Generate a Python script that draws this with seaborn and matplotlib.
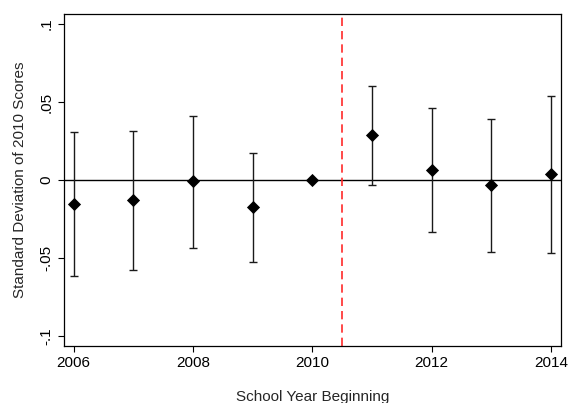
import numpy as np
import pandas as pd
import matplotlib
matplotlib.use("Agg")
import matplotlib.pyplot as plt
import seaborn as sns

# Event-study estimates
years = [2006, 2007, 2008, 2009, 2010, 2011, 2012, 2013, 2014]
coef = [-0.0154, -0.0128, -0.0008, -0.0175, 0.0, 0.0286, 0.0062, -0.0034, 0.0040]
ci_hi = [0.0310, 0.0316, 0.0410, 0.0171, np.nan, 0.0605, 0.0460, 0.0390, 0.0540]
ci_lo = [-0.0613, -0.0579, -0.0434, -0.0524, np.nan, -0.0032, -0.0333, -0.0464, -0.0468]
y_ticks = [-0.1, -0.05, 0, 0.05, 0.1]
y_tick_labels = ["-.1", "-.05", "0", ".05", ".1"]
x_ticks = [2006, 2008, 2010, 2012, 2014]
cutoff = 2010.5

sns.set_theme(style="white")
plt.rcParams['font.family'] = ['Liberation Sans', 'DejaVu Sans']

df = pd.DataFrame({"year": years, "coef": coef, "hi": ci_hi, "lo": ci_lo})

fig = plt.figure(figsize=(5.69, 4.03), dpi=100)
ax = fig.add_axes([0.1125, 0.1414, 0.8735, 0.8239])

# confidence intervals
bars = df.dropna()
ax.errorbar(bars["year"], bars["coef"],
            yerr=[bars["coef"] - bars["lo"], bars["hi"] - bars["coef"]],
            fmt='none', ecolor='#1a1a1a', elinewidth=1.0, capsize=2.8, capthick=1.0, zorder=2)

ax.axhline(0, color='black', linewidth=1.0, zorder=1)
ax.axvline(cutoff, color='#ff2a2a', linewidth=1.2, linestyle=(0, (5, 3)), zorder=1)

sns.scatterplot(data=df, x="year", y="coef", marker='D', s=45, color='black',
                edgecolor='black', linewidth=0, zorder=3, ax=ax)

ax.set_xlim(2005.84, 2014.17)
ax.set_ylim(-0.1064, 0.1064)
ax.set_xticks(x_ticks)
ax.set_yticks(y_ticks)
ax.set_yticklabels(y_tick_labels, rotation=90, va='center')
ax.tick_params(axis='both', direction='out', length=4, width=0.8, colors='black',
               labelsize=11, left=True, bottom=True)
for s in ax.spines.values():
    s.set_color('black')
    s.set_linewidth(0.9)

ax.set_xlabel("School Year Beginning", fontsize=11, labelpad=14)
ax.set_ylabel("Standard Deviation of 2010 Scores", fontsize=11, labelpad=9)

fig.savefig("out.png", dpi=100)
